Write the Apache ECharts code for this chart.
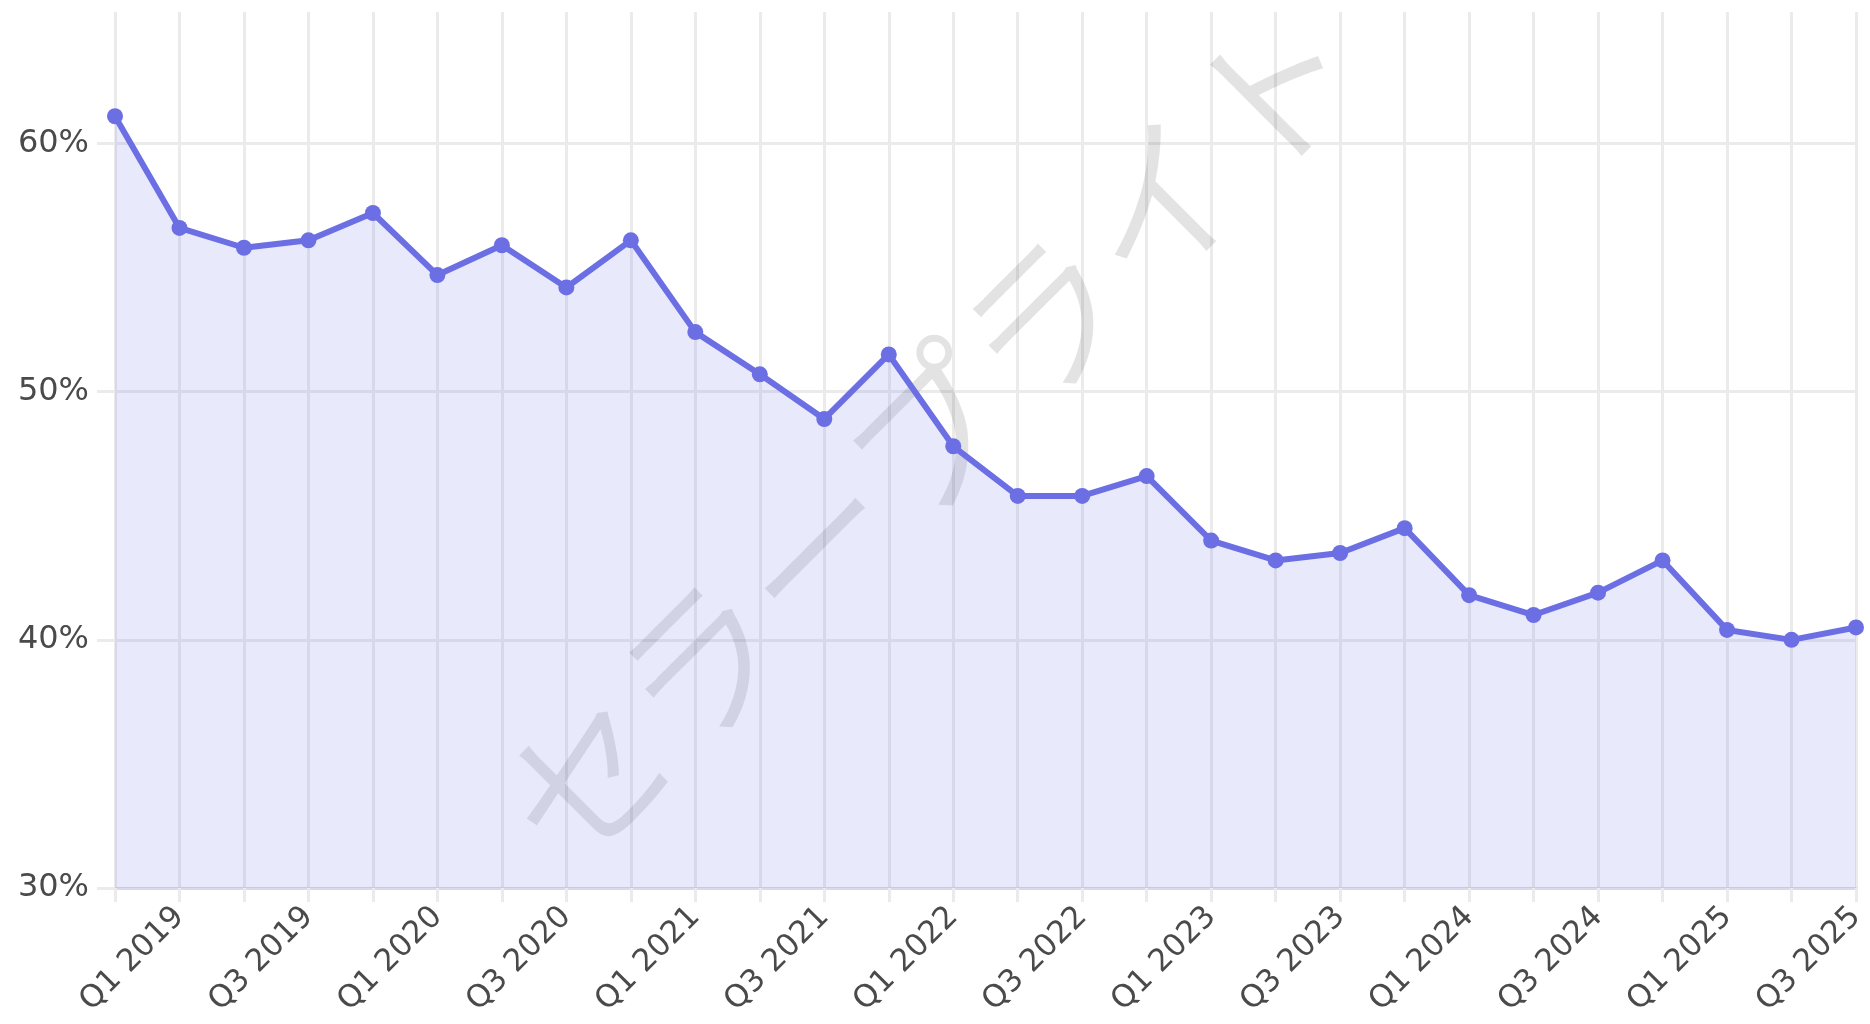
<!DOCTYPE html>
<html>
<head>
<meta charset="utf-8">
<script src="https://cdn.jsdelivr.net/npm/echarts@6/dist/echarts.min.js"></script>
<style>
  html, body { margin: 0; padding: 0; background: #fff; }
  #chart { width: 1870px; height: 1024px; }
</style>
</head>
<body>
<div id="chart"></div>
<script>
// quarterly share, Q4 2018 .. Q3 2025
const quarters = [
  'Q4 2018',
  'Q1 2019', 'Q2 2019', 'Q3 2019', 'Q4 2019',
  'Q1 2020', 'Q2 2020', 'Q3 2020', 'Q4 2020',
  'Q1 2021', 'Q2 2021', 'Q3 2021', 'Q4 2021',
  'Q1 2022', 'Q2 2022', 'Q3 2022', 'Q4 2022',
  'Q1 2023', 'Q2 2023', 'Q3 2023', 'Q4 2023',
  'Q1 2024', 'Q2 2024', 'Q3 2024', 'Q4 2024',
  'Q1 2025', 'Q2 2025', 'Q3 2025',
]
const shareValues = [
  61.1,
  56.6, 55.8, 56.1, 57.2,
  54.7, 55.9, 54.2, 56.1,
  52.4, 50.7, 48.9, 51.5,
  47.8, 45.8, 45.8, 46.6,
  44.0, 43.2, 43.5, 44.5,
  41.8, 41.0, 41.9, 43.2,
  40.4, 40.0, 40.5,
]
const yMin = 30
const yMax = 65.3
const yStep = 10
const watermarkText = 'セラープライト'

const lineColor = '#6b6fe3'
const gridColor = '#ebebeb'
const labelColor = '#4a4a4a'
const fontFamily = '"DejaVu Sans", sans-serif'

const chart = echarts.init(document.getElementById('chart'), null, { renderer: 'canvas' })

chart.setOption({
  animation: false,
  grid: { left: 115, right: 14, top: 12, bottom: 136 },
  xAxis: {
    type: 'category',
    data: quarters,
    boundaryGap: false,
    axisLine: { show: true, lineStyle: { color: '#d9d9ee', width: 3 } },
    axisTick: { show: true, interval: 0, length: 14, lineStyle: { color: gridColor, width: 3 } },
    splitLine: { show: true, interval: 0, lineStyle: { color: gridColor, width: 3 } },
    axisLabel: {
      interval: (i) => i % 2 === 1,
      rotate: 45,
      margin: 24,
      color: labelColor,
      fontSize: 31,
      fontFamily,
    },
  },
  yAxis: {
    type: 'value',
    min: yMin,
    max: yMax,
    interval: yStep,
    axisLine: { show: false },
    axisTick: { show: true, length: 18, lineStyle: { color: gridColor, width: 3 } },
    splitLine: { show: true, showMaxLine: false, lineStyle: { color: gridColor, width: 3 } },
    axisLabel: {
      showMaxLabel: false,
      margin: 26,
      color: labelColor,
      fontSize: 32,
      fontFamily,
      formatter: (v) => v + '%',
    },
  },
  graphic: [{
    type: 'text',
    x: 930,
    y: 434,
    rotation: Math.PI / 4,
    z: 1,
    style: {
      text: watermarkText,
      fontSize: 162,
      fontWeight: 350,
      fontFamily: '"Noto Sans CJK JP", sans-serif',
      fill: 'rgba(0, 0, 0, 0.11)',
      textAlign: 'center',
      textVerticalAlign: 'middle',
    },
  }],
  series: [{
    type: 'line',
    data: shareValues,
    symbol: 'circle',
    symbolSize: 16,
    z: 3,
    lineStyle: { color: lineColor, width: 6 },
    itemStyle: { color: lineColor },
    areaStyle: { color: 'rgba(107, 111, 227, 0.22)', origin: 'start' },
  }],
})
</script>
</body>
</html>
